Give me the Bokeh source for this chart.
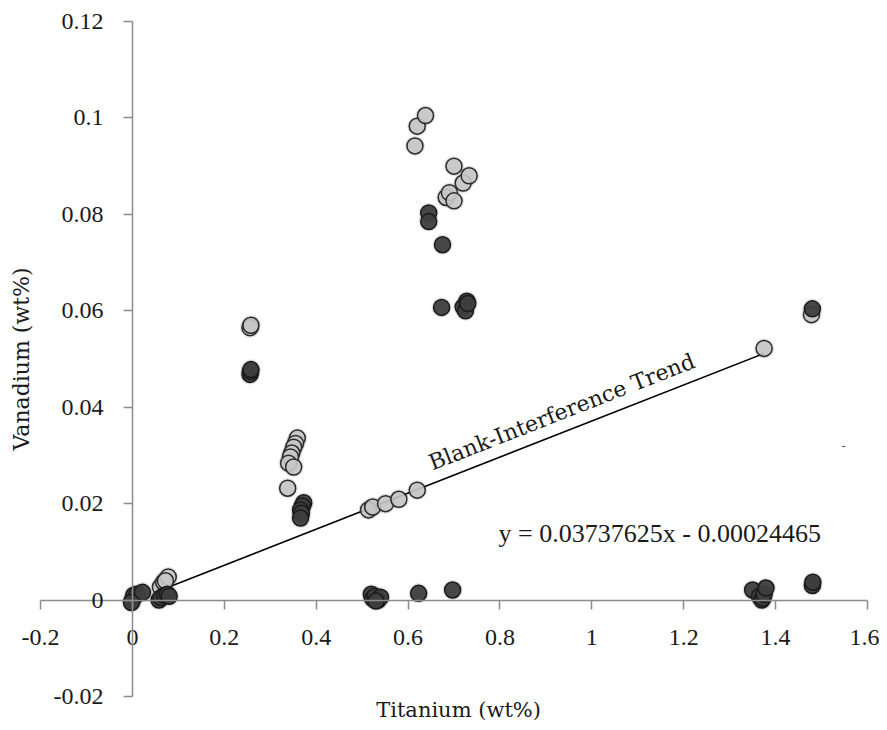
import math
from bokeh.plotting import figure
from bokeh.models import Range1d, LinearAxis, FixedTicker, Label
from bokeh.embed import file_html
from bokeh.resources import INLINE

# ---- data ----
light_x = [0.061, 0.068, 0.078, 0.072,
           0.256, 0.258,
           0.359, 0.355, 0.351, 0.347, 0.344, 0.340, 0.351, 0.338,
           0.514, 0.523, 0.551, 0.580, 0.620,
           0.615, 0.620, 0.638, 0.683, 0.690, 0.700, 0.700, 0.720, 0.733,
           1.375, 1.478]
light_y = [0.0027, 0.0037, 0.0048, 0.0040,
           0.0565, 0.0570,
           0.0336, 0.0325, 0.0317, 0.0305, 0.0297, 0.0284, 0.0276, 0.0232,
           0.0187, 0.0193, 0.0200, 0.0209, 0.0228,
           0.0942, 0.0983, 0.1005, 0.0835, 0.0845, 0.0900, 0.0828, 0.0865, 0.0880,
           0.0522, 0.0592]

dark_x = [0.000, 0.003, 0.010, 0.022, -0.002, 0.058, 0.062, 0.070, 0.076, 0.080,
          0.256, 0.257, 0.258,
          0.373, 0.370, 0.366, 0.368, 0.366,
          0.645, 0.645, 0.675, 0.673, 0.720, 0.728, 0.725, 0.730,
          0.520, 0.523, 0.528, 0.535, 0.540, 0.530, 0.623, 0.697,
          1.350, 1.365, 1.370, 1.372, 1.375, 1.379,
          1.480, 1.481, 1.480]
dark_y = [0.0000, 0.0010, 0.0012, 0.0016, -0.0005, 0.0000, 0.0005, 0.0010, 0.0012, 0.0008,
          0.0468, 0.0474, 0.0478,
          0.0202, 0.0195, 0.0187, 0.0180, 0.0170,
          0.0803, 0.0785, 0.0737, 0.0607, 0.0608, 0.0620, 0.0600, 0.0615,
          0.0012, 0.0003, 0.0008, 0.0000, 0.0006, -0.0002, 0.0014, 0.0021,
          0.0021, 0.0008, 0.0000, 0.0004, 0.0012, 0.0025,
          0.0030, 0.0037, 0.0604]

trend_slope = 0.03737625
trend_intercept = -0.00024465
trend_x = [0.06, 1.375]
trend_label = "Blank-Interference Trend"
equation_label = "y = 0.03737625x - 0.00024465"

x_ticks = [-0.2, 0, 0.2, 0.4, 0.6, 0.8, 1.0, 1.2, 1.4, 1.6]
x_tick_labels = ["-0.2", "0", "0.2", "0.4", "0.6", "0.8", "1", "1.2", "1.4", "1.6"]
y_ticks = [-0.02, 0, 0.02, 0.04, 0.06, 0.08, 0.1, 0.12]
y_tick_labels = ["-0.02", "0", "0.02", "0.04", "0.06", "0.08", "0.1", "0.12"]

x_title = "Titanium (wt%)"
y_title = "Vanadium (wt%)"

# ---- figure: frame fills the canvas; axes sit at the origin ----
W, H = 879, 722
X0, X1 = -0.2, 1.6
Y0, Y1 = -0.02, 0.12
ax_left_px, ax_right_px = 40, 867      # where x = -0.2 and x = 1.6 fall on the canvas
ax_top_px, ax_bottom_px = 21, 696      # where y = 0.12 and y = -0.02 fall on the canvas
sx = (ax_right_px - ax_left_px) / (X1 - X0)
sy = (ax_bottom_px - ax_top_px) / (Y1 - Y0)
x_range = Range1d(X0 - ax_left_px / sx, X1 + (W - ax_right_px) / sx)
y_range = Range1d(Y0 - (H - ax_bottom_px) / sy, Y1 + ax_top_px / sy)

p = figure(width=W, height=H, x_range=x_range, y_range=y_range,
           output_backend="svg", toolbar_location=None,
           x_axis_type=None, y_axis_type=None,
           min_border_left=0, min_border_right=0, min_border_top=0, min_border_bottom=0)
p.outline_line_color = None
p.background_fill_color = "white"
p.border_fill_color = "white"

AX_COLOR = "#8c8c8c"
TXT = "#1a1a1a"
NUM_FONT = "Liberation Serif"
WORD_FONT = "DejaVu Serif"

xaxis = LinearAxis(fixed_location=0, bounds=(X0, X1),
                   ticker=FixedTicker(ticks=x_ticks),
                   major_label_overrides={t: l for t, l in zip(x_ticks, x_tick_labels)})
yaxis = LinearAxis(fixed_location=0, bounds=(Y0, Y1),
                   ticker=FixedTicker(ticks=y_ticks),
                   major_label_overrides={t: l for t, l in zip(y_ticks, y_tick_labels)})
for ax in (xaxis, yaxis):
    ax.axis_line_color = AX_COLOR
    ax.axis_line_width = 1.5
    ax.major_tick_line_color = AX_COLOR
    ax.major_tick_line_width = 1.5
    ax.major_tick_in = 0
    ax.major_tick_out = 9
    ax.minor_tick_line_color = None
    ax.major_label_text_font = NUM_FONT
    ax.major_label_text_font_size = "24px"
    ax.major_label_text_color = TXT
xaxis.major_label_standoff = 21
yaxis.major_label_standoff = 20
p.add_layout(xaxis, "below")
p.add_layout(yaxis, "left")

# axis titles
p.add_layout(Label(x=X0 - 19 / sx, y=(Y0 + Y1) / 2, text=y_title, angle=math.pi / 2,
                   text_font=WORD_FONT, text_font_size="22px", text_color=TXT,
                   text_align="center", text_baseline="middle"))
p.add_layout(Label(x=(X0 + X1) / 2 + 0.01, y=Y0 - 13 / sy, text=x_title,
                   text_font=WORD_FONT, text_font_size="21px", text_color=TXT,
                   text_align="center", text_baseline="middle"))

# trend line
trend_y = [trend_slope * x + trend_intercept for x in trend_x]
p.line(trend_x, trend_y, line_color="black", line_width=1.6)

# points (soft halo, then marker)
for xs, ys in ((light_x, light_y), (dark_x, dark_y)):
    p.scatter(xs, ys, size=20, marker="circle", fill_color="black", fill_alpha=0.12, line_color=None)
p.scatter(light_x, light_y, size=16, marker="circle", fill_color="#c6c6c6", fill_alpha=0.9,
          line_color="#2b2b2b", line_width=1.5)
p.scatter(dark_x, dark_y, size=16, marker="circle", fill_color="#3e3e3e", fill_alpha=0.95,
          line_color="#1a1a1a", line_width=1.5)

# annotations
angle = math.atan(trend_slope * sy / sx)
p.add_layout(Label(x=0.647, y=0.0283, text=trend_label, angle=angle,
                   text_font=WORD_FONT, text_font_size="22px", text_color=TXT,
                   text_baseline="alphabetic", text_align="left"))
p.add_layout(Label(x=0.797, y=0.0139, text=equation_label,
                   text_font=NUM_FONT, text_font_size="26px", text_color=TXT,
                   text_baseline="alphabetic", text_align="left"))
p.add_layout(Label(x=1.548, y=0.0319, text="-", text_font=NUM_FONT, text_font_size="12px",
                   text_color="#444444", text_baseline="middle", text_align="center"))

open("out.html", "w").write(file_html(p, INLINE))
